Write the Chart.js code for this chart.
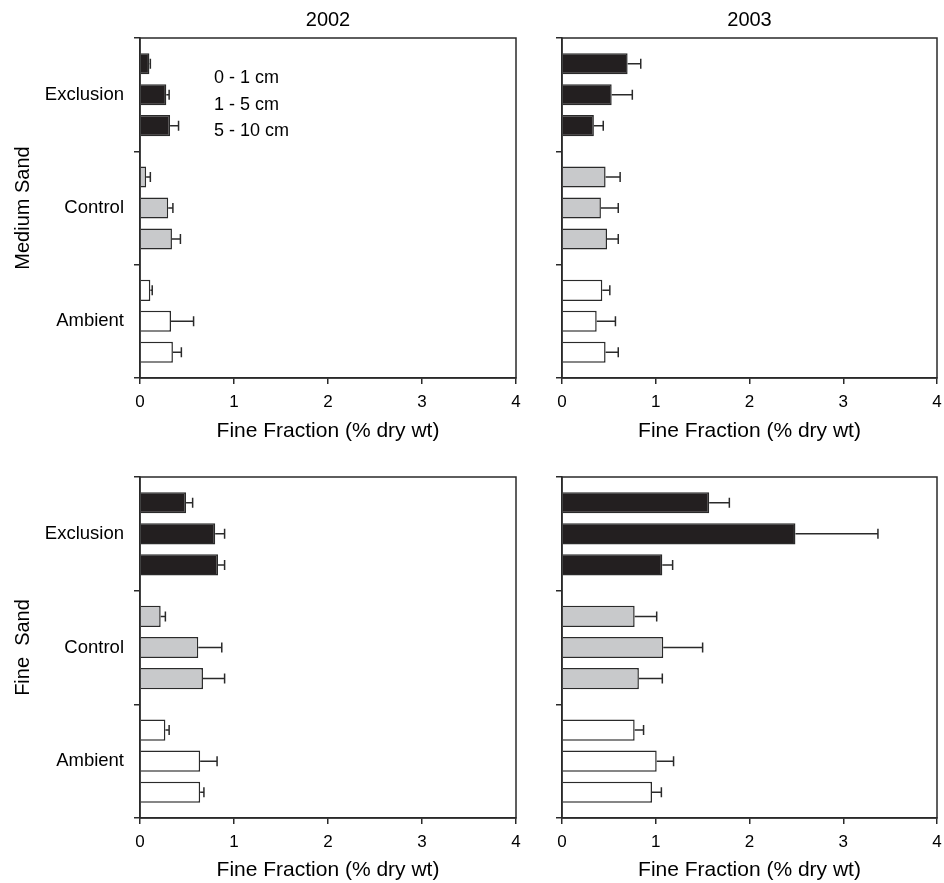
<!DOCTYPE html>
<html>
<head>
<meta charset="utf-8">
<script src="https://cdn.jsdelivr.net/npm/chart.js@4.4.1/dist/chart.umd.min.js"></script>
<style>
    body { margin: 0; background: #fff; overflow: hidden; }
    #wrap { position: relative; width: 944px; height: 883px; }
    canvas { position: absolute; }
</style>
</head>
<body>
<div id="wrap">
    <canvas id="c1" width="540" height="444" style="left:0;top:0"></canvas>
    <canvas id="c2" width="404" height="444" style="left:540px;top:0"></canvas>
    <canvas id="c3" width="540" height="443" style="left:0;top:440px"></canvas>
    <canvas id="c4" width="404" height="443" style="left:540px;top:440px"></canvas>
</div>
<script>
var trattamenti = ['Exclusion', 'Control', 'Ambient'];
var profondita = ['0 - 1 cm', '1 - 5 cm', '5 - 10 cm'];
var anni = ['2002', '2003'];
var xTicks = [0, 1, 2, 3, 4];

// media per trattamento -> [0-1, 1-5, 5-10]
var medium2002 = [[0.10, 0.28, 0.32], [0.065, 0.30, 0.34], [0.11, 0.33, 0.35]];
var medium2002Err = [[0.01, 0.03, 0.09], [0.045, 0.05, 0.09], [0.02, 0.24, 0.09]];
var medium2003 = [[0.70, 0.53, 0.34], [0.465, 0.415, 0.48], [0.43, 0.37, 0.465]];
var medium2003Err = [[0.14, 0.22, 0.10], [0.155, 0.185, 0.12], [0.08, 0.20, 0.135]];
var fine2002 = [[0.49, 0.80, 0.83], [0.22, 0.62, 0.67], [0.27, 0.64, 0.64]];
var fine2002Err = [[0.07, 0.10, 0.07], [0.05, 0.25, 0.23], [0.04, 0.18, 0.04]];
var fine2003 = [[1.57, 2.49, 1.07], [0.775, 1.08, 0.82], [0.775, 1.01, 0.96]];
var fine2003Err = [[0.215, 0.88, 0.11], [0.235, 0.42, 0.25], [0.095, 0.18, 0.10]];

var colori = ['#231f20', '#c8c9cb', '#ffffff'];
var linea = '#2a2a2a';

Chart.defaults.font.family = "'Liberation Sans', Arial, sans-serif";
Chart.defaults.color = '#000';

// barre di errore solo verso destra
var erroriPlugin = {
    id: 'errori',
    afterDatasetsDraw: function(chart) {
        var ctx = chart.ctx;
        var xs = chart.scales.x;
        ctx.save();
        ctx.strokeStyle = linea;
        ctx.lineWidth = 1.5;
        chart.data.datasets.forEach(function(ds, i) {
            var meta = chart.getDatasetMeta(i);
            meta.data.forEach(function(bar, j) {
                var xe = xs.getPixelForValue(ds.data[j] + ds.errori[j]);
                ctx.beginPath();
                ctx.moveTo(bar.x, bar.y);
                ctx.lineTo(xe, bar.y);
                ctx.moveTo(xe, bar.y - 5);
                ctx.lineTo(xe, bar.y + 5);
                ctx.stroke();
            });
        });
        ctx.restore();
    }
};

// cornice, titolo anno e testo profondita
var cornicePlugin = {
    id: 'cornice',
    afterDraw: function(chart, args, opts) {
        var ctx = chart.ctx;
        var a = chart.chartArea;
        ctx.save();
        ctx.strokeStyle = linea;
        ctx.lineWidth = 1.5;
        ctx.strokeRect(a.left, a.top, a.right - a.left, a.bottom - a.top);
        ctx.fillStyle = '#000';
        if (opts.anno) {
            ctx.font = "20px 'Liberation Sans', Arial, sans-serif";
            ctx.textAlign = 'center';
            ctx.textBaseline = 'middle';
            ctx.fillText(opts.anno, (a.left + a.right) / 2, 20);
        }
        if (opts.legenda) {
            ctx.font = "18px 'Liberation Sans', Arial, sans-serif";
            ctx.textAlign = 'left';
            ctx.textBaseline = 'middle';
            opts.legenda.forEach(function(t, k) {
                ctx.fillText(t, a.left + 74, a.top + 40 + k * 26.7);
            });
        }
        ctx.restore();
    }
};

function pannello(id, medie, errori, asseY, padTop, anno, legenda) {
    var datasets = profondita.map(function(p, d) {
        return {
            label: p,
            data: medie.map(function(r) { return r[d]; }),
            errori: errori.map(function(r) { return r[d]; }),
            backgroundColor: colori,
            borderColor: linea,
            borderWidth: 1.5,
            categoryPercentage: 0.82,
            barPercentage: 0.68
        };
    });
    var larghezzaY = asseY ? 140 : 22;
    var altezzaX = id === 'c1' || id === 'c2' ? 66 : 65;
    return new Chart(document.getElementById(id), {
        type: 'bar',
        data: { labels: trattamenti, datasets: datasets },
        options: {
            indexAxis: 'y',
            responsive: false,
            animation: false,
            layout: { padding: { left: 0, top: padTop, right: asseY ? 24 : 7, bottom: 0 } },
            plugins: {
                legend: { display: false },
                tooltip: { enabled: false },
                cornice: { anno: anno, legenda: legenda }
            },
            scales: {
                x: {
                    type: 'linear',
                    min: xTicks[0],
                    max: xTicks[xTicks.length - 1],
                    afterBuildTicks: function(s) { s.ticks = xTicks.map(function(v) { return { value: v }; }); },
                    ticks: { font: { size: 17 }, padding: 8, color: '#000' },
                    grid: { drawOnChartArea: false, tickLength: 6, color: linea, lineWidth: 1.5 },
                    border: { color: linea, width: 1.5 },
                    title: { display: true, text: 'Fine Fraction (% dry wt)', font: { size: 21 }, color: '#000', padding: 0 },
                    afterFit: function(s) {
                        s.height = altezzaX;
                        s.paddingLeft = 0;
                        s.paddingRight = 0;
                    }
                },
                y: {
                    type: 'category',
                    ticks: { display: !!asseY, font: { size: 18.5 }, padding: 10, color: '#000' },
                    grid: { offset: true, drawOnChartArea: false, tickLength: 6, color: linea, lineWidth: 1.5 },
                    border: { color: linea, width: 1.5 },
                    title: { display: !!asseY, text: asseY || '', font: { size: 20 }, color: '#000', padding: { top: 11, bottom: 0 } },
                    afterFit: function(s) {
                        s.width = larghezzaY;
                        s.paddingTop = 0;
                        s.paddingBottom = 0;
                    }
                }
            }
        },
        plugins: [erroriPlugin, cornicePlugin]
    });
}

pannello('c1', medium2002, medium2002Err, 'Medium Sand', 38, anni[0], profondita);
pannello('c2', medium2003, medium2003Err, null, 38, anni[1], null);
pannello('c3', fine2002, fine2002Err, 'Fine  Sand', 37, null, null);
pannello('c4', fine2003, fine2003Err, null, 37, null, null);
</script>
</body>
</html>
